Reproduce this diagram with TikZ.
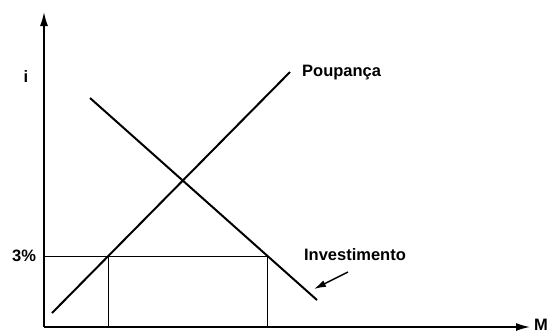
\documentclass[tikz,border=0pt]{standalone}
\usepackage{fontspec}
\setmainfont{Liberation Sans}
\usetikzlibrary{arrows.meta}
\begin{document}
\begin{tikzpicture}[x=1pt,y=-1pt,
  axis/.style={line width=1.5pt,-{Latex[length=14pt,width=8pt]}},
  curve/.style={line width=2pt},
  guide/.style={line width=1pt},
  pointer/.style={line width=1.5pt,-{Latex[length=12pt,width=7pt]}},
  lbl/.style={font=\fontsize{16.5}{20}\selectfont\bfseries, inner sep=0pt}]
\useasboundingbox (0,0) rectangle (552,333);
% axes
\coordinate (O) at (44,327);
\coordinate (Ytop) at (44,12);
\coordinate (Xend) at (530,327);
\draw[axis] (O) -- (Ytop);
\draw[axis] (O) -- (Xend);
\node[lbl, anchor=west] (M) at (534,325) {M};
\node[lbl] (i) at (26,77) {i};
\node[lbl] (p3) at (24,256) {3\%};
% curves
\coordinate (P1) at (52,313);
\coordinate (P2) at (290,72);
\coordinate (I1) at (90,98);
\coordinate (I2) at (317,300);
\draw[curve] (P1) -- (P2);
\draw[curve] (I1) -- (I2);
% guides
\coordinate (Y3) at (44,256);
\coordinate (A) at (108,256);
\coordinate (B) at (267,256);
\coordinate (Ab) at (108,327);
\coordinate (Bb) at (267,327);
\draw[guide] (Y3) -- (B);
\draw[guide] (A) -- (Ab);
\draw[guide] (B) -- (Bb);
% labels
\node[lbl, anchor=west] (pou) at (302,73) {Poupança};
\node[lbl] (inv) at (355,255) {Investimento};
\coordinate (arrS) at (348,272);
\coordinate (arrE) at (314,289);
\draw[pointer] (arrS) -- (arrE);
\end{tikzpicture}
\end{document}
